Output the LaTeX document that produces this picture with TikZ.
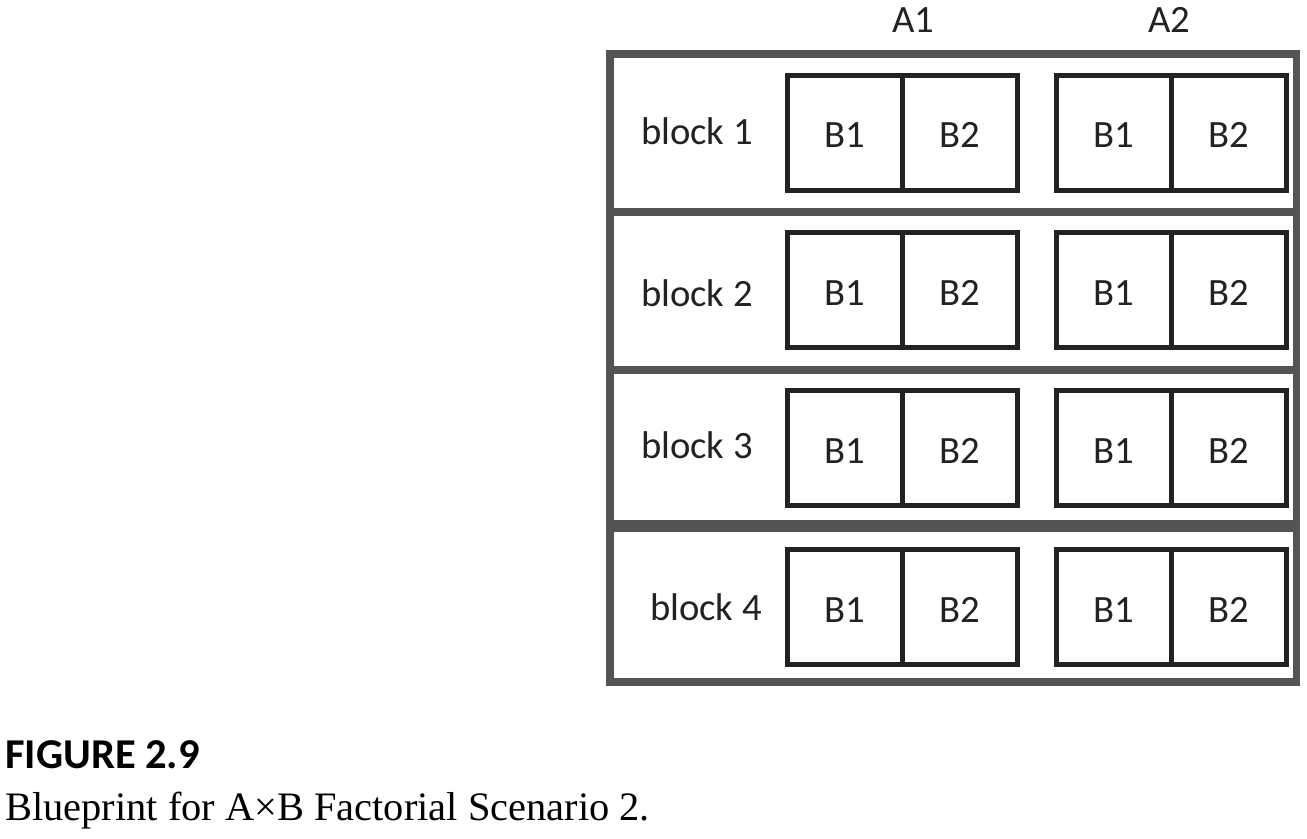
\documentclass[tikz,border=0pt]{standalone}
\usepackage{fontspec}
\setmainfont{Carlito}
\newfontfamily\capserif{Liberation Serif}
\usetikzlibrary{positioning}
\definecolor{framegray}{HTML}{545454}
\definecolor{ink}{HTML}{222222}
\tikzset{
  cell/.style={draw=ink,line width=2.9pt,minimum width=2.3cm,minimum height=2.3cm,inner sep=0pt,outer sep=0pt,text height=0.6cm,text depth=0pt,text=ink,font=\fontsize{22}{26}\selectfont},
  lab/.style={text=ink,font=\fontsize{22}{26}\selectfont,inner sep=0pt},
  sep/.style={framegray,line width=#1},
}

\begin{document}
\begin{tikzpicture}[x=0.02cm,y=-0.02cm]
\useasboundingbox (0,0) rectangle (1307,838);
% frame and block separators
\draw[sep=4pt] (610,54) rectangle (1296.5,682);
\draw[sep=4.5pt] (610,212) -- (1296.5,212);
\draw[sep=4pt] (610,370) -- (1296.5,370);
\draw[sep=6.8pt] (610,526) -- (1296.5,526);
% headers
\node[lab] (a1) at (913,20) {A1};
\node[lab] (a2) at (1169,20) {A2};
% blocks
\foreach \i/\y/\lx/\ly in {1/133/697/131,2/290/697/293,3/448/697/445,4/607/706/607}{
  \node[lab] (blk\i) at (\lx,\ly) {block \i};
  \node[cell] (a1b1-\i) at (845,\y) {B1};
  \node[cell,right=0pt of a1b1-\i] (a1b2-\i) {B2};
  \node[cell,right=0.78cm of a1b2-\i] (a2b1-\i) {B1};
  \node[cell,right=0pt of a2b1-\i] (a2b2-\i) {B2};
}
% caption
\node[anchor=base west,inner sep=0pt,font=\fontsize{24.2}{28}\selectfont\bfseries] (fig) at (5,768) {FIGURE 2.9};
\node[anchor=base west,inner sep=0pt,font=\capserif\fontsize{23}{27}\selectfont] (cap) at (5,820) {Blueprint for A×B Factorial Scenario 2.};
\end{tikzpicture}
\end{document}
